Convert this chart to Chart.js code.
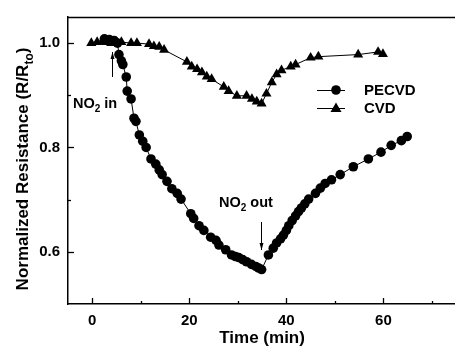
<!DOCTYPE html>
<html>
<head>
<meta charset="utf-8">
<script src="https://cdn.jsdelivr.net/npm/chart.js@4.4.0/dist/chart.umd.min.js"></script>
<style>
  html, body { margin: 0; padding: 0; background: #fff; overflow: hidden; }
  #wrap { position: absolute; left: 0; top: 0; width: 462px; height: 353px; }
</style>
</head>
<body>
<div id="wrap"><canvas id="myChart" width="462" height="353"></canvas></div>
<script>
// data
const pecvdTime = [2.5, 3.5, 4.5, 5.2, 5.5, 6.0, 6.3, 7.0, 7.2, 8.0, 8.6, 9.0, 9.7, 10.4, 11.1, 12.1, 13.1, 13.8, 14.4, 15.4, 16.4, 17.5, 18.3, 20.3, 20.9, 22.0, 23.0, 24.4, 25.5, 26.1, 27.5, 28.7, 29.5, 30.2, 31.0, 31.8, 32.8, 33.7, 34.3, 34.9, 36.3, 37.3, 38.0, 38.8, 39.4, 40.0, 40.5, 41.2, 41.9, 42.5, 43.1, 43.8, 44.6, 46.0, 47.0, 48.0, 49.3, 51.1, 53.8, 56.9, 59.5, 61.6, 63.7, 64.9];
const pecvdRes = [1.008, 1.007, 1.005, 1.0, 0.978, 0.966, 0.959, 0.935, 0.908, 0.893, 0.856, 0.85, 0.824, 0.812, 0.8, 0.778, 0.768, 0.757, 0.748, 0.735, 0.721, 0.712, 0.701, 0.673, 0.664, 0.65, 0.641, 0.628, 0.622, 0.613, 0.604, 0.594, 0.591, 0.589, 0.585, 0.581, 0.576, 0.572, 0.569, 0.566, 0.594, 0.607, 0.617, 0.625, 0.632, 0.641, 0.65, 0.66, 0.669, 0.677, 0.684, 0.692, 0.701, 0.712, 0.722, 0.731, 0.738, 0.748, 0.763, 0.778, 0.791, 0.804, 0.813, 0.821];

const cvdTime = [-0.2, 1.0, 2.1, 2.9, 3.9, 4.9, 6.0, 8.0, 9.2, 11.7, 12.7, 13.8, 14.8, 19.5, 20.5, 21.6, 22.6, 23.6, 24.6, 27.1, 28.1, 29.8, 31.8, 32.9, 33.9, 34.9, 35.9, 37.0, 38.0, 39.0, 40.9, 41.9, 45.0, 46.6, 54.8, 58.9, 59.9];
const cvdRes = [1.0, 1.002, 1.004, 1.002, 1.0, 1.002, 1.002, 1.0, 1.0, 0.998, 0.994, 0.993, 0.987, 0.964, 0.955, 0.95, 0.944, 0.936, 0.931, 0.916, 0.908, 0.899, 0.899, 0.893, 0.888, 0.884, 0.903, 0.925, 0.94, 0.948, 0.955, 0.959, 0.972, 0.974, 0.978, 0.983, 0.979];

const xTicks = [0, 20, 40, 60];
const xMinor = [10, 30, 50, 70];
const yTicks = [0.6, 0.8, 1.0];
const yMinor = [0.7, 0.9];

const FONT = '"Liberation Sans", Arial, sans-serif';

function toPoints(xs, ys) {
    return xs.map((x, i) => ({ x: x, y: ys[i] }));
}

// draws text with a subscript part: parts = [[text, isSub], ...]
function drawRich(ctx, parts, x, y, size, align) {
    const subSize = Math.round(size * 0.68);
    let total = 0;
    parts.forEach(p => {
        ctx.font = 'bold ' + (p[1] ? subSize : size) + 'px ' + FONT;
        total += ctx.measureText(p[0]).width;
    });
    let cx = align === 'center' ? x - total / 2 : x;
    ctx.textAlign = 'left';
    ctx.textBaseline = 'alphabetic';
    parts.forEach(p => {
        ctx.font = 'bold ' + (p[1] ? subSize : size) + 'px ' + FONT;
        ctx.fillText(p[0], cx, p[1] ? y + size * 0.3 : y);
        cx += ctx.measureText(p[0]).width;
    });
}

function arrow(ctx, x, y1, y2) {
    // from y1 to y2, head at y2
    const dir = y2 > y1 ? 1 : -1;
    ctx.beginPath();
    ctx.moveTo(x, y1);
    ctx.lineTo(x, y2);
    ctx.stroke();
    ctx.beginPath();
    ctx.moveTo(x, y2);
    ctx.lineTo(x - 2, y2 - dir * 7);
    ctx.lineTo(x + 2, y2 - dir * 7);
    ctx.closePath();
    ctx.fill();
}

const extras = {
    id: 'extras',
    afterDraw(chart) {
        const ctx = chart.ctx;
        const xs = chart.scales.x, ys = chart.scales.y;
        const area = chart.chartArea;
        ctx.save();
        ctx.strokeStyle = '#000';
        ctx.fillStyle = '#000';
        ctx.lineWidth = 1.5;

        // top frame
        ctx.beginPath();
        ctx.moveTo(area.left, area.top + 0.5);
        ctx.lineTo(area.right, area.top + 0.5);
        ctx.stroke();

        // inward ticks
        ctx.lineWidth = 1.3;
        xTicks.concat(xMinor).forEach(v => {
            const px = Math.round(xs.getPixelForValue(v)) + 0.5;
            const len = xTicks.includes(v) ? 6 : 3;
            ctx.beginPath();
            ctx.moveTo(px, area.bottom);
            ctx.lineTo(px, area.bottom - len);
            ctx.stroke();
        });
        yTicks.concat(yMinor).forEach(v => {
            const py = Math.round(ys.getPixelForValue(v)) + 0.5;
            const len = yTicks.includes(v) ? 6 : 3;
            ctx.beginPath();
            ctx.moveTo(area.left, py);
            ctx.lineTo(area.left + len, py);
            ctx.stroke();
        });

        // y axis title
        ctx.save();
        ctx.translate(28, 169);
        ctx.rotate(-Math.PI / 2);
        drawRich(ctx, [['Normalized Resistance (R/R', false], ['to', true], [')', false]], 0, 0, 17, 'center');
        ctx.restore();

        // annotations
        drawRich(ctx, [['NO', false], ['2', true], [' in', false]], 73, 108, 14.5, 'left');
        drawRich(ctx, [['NO', false], ['2', true], [' out', false]], 219, 207, 14.5, 'left');
        ctx.lineWidth = 1;
        arrow(ctx, 112.5, 77, 52);
        arrow(ctx, 261.5, 222, 250);

        // legend
        const rows = [['PECVD', 90, 'circle'], ['CVD', 108, 'triangle']];
        rows.forEach(r => {
            ctx.lineWidth = 1;
            ctx.beginPath();
            ctx.moveTo(317, r[1] + 0.5);
            ctx.lineTo(345, r[1] + 0.5);
            ctx.stroke();
            ctx.beginPath();
            if (r[2] === 'circle') {
                ctx.arc(336, r[1], 4.8, 0, Math.PI * 2);
            } else {
                ctx.moveTo(336, r[1] - 5.5);
                ctx.lineTo(341.5, r[1] + 4);
                ctx.lineTo(330.5, r[1] + 4);
                ctx.closePath();
            }
            ctx.fill();
            ctx.font = 'bold 15px ' + FONT;
            ctx.textAlign = 'left';
            ctx.textBaseline = 'middle';
            ctx.fillText(r[0], 364, r[1] + 1);
        });
        ctx.restore();
    }
};

const ctx = document.getElementById('myChart').getContext('2d');

new Chart(ctx, {
    type: 'scatter',
    data: {
        datasets: [
            {
                label: 'PECVD',
                data: toPoints(pecvdTime, pecvdRes),
                showLine: true,
                borderColor: '#000',
                borderWidth: 1,
                backgroundColor: '#000',
                pointStyle: 'circle',
                pointRadius: 4.8,
                pointBorderWidth: 0
            },
            {
                label: 'CVD',
                data: toPoints(cvdTime, cvdRes),
                showLine: true,
                borderColor: '#000',
                borderWidth: 1,
                backgroundColor: '#000',
                pointStyle: 'triangle',
                pointRadius: 5.8,
                pointBorderWidth: 0
            }
        ]
    },
    options: {
        responsive: false,
        animation: false,
        devicePixelRatio: 1,
        layout: { padding: { left: 0, right: 4, top: 10, bottom: 0 } },
        scales: {
            x: {
                type: 'linear',
                min: -5,
                max: 75,
                afterBuildTicks: s => { s.ticks = xTicks.map(v => ({ value: v })); },
                afterFit: s => { s.height = 49; },
                grid: { display: false, drawTicks: false },
                border: { display: true, color: '#000', width: 1.5 },
                ticks: {
                    color: '#000',
                    padding: 8,
                    font: { family: FONT, size: 15, weight: 'bold' }
                },
                title: {
                    display: true,
                    text: 'Time (min)',
                    color: '#000',
                    padding: { top: 9 },
                    font: { family: FONT, size: 17, weight: 'bold' }
                }
            },
            y: {
                min: 0.5,
                max: 1.05,
                afterBuildTicks: s => { s.ticks = yTicks.map(v => ({ value: v })); },
                afterFit: s => { s.width = 68; },
                grid: { display: false, drawTicks: false },
                border: { display: true, color: '#000', width: 1.5 },
                ticks: {
                    color: '#000',
                    padding: 8,
                    font: { family: FONT, size: 15, weight: 'bold' },
                    callback: v => v.toFixed(1)
                }
            }
        },
        plugins: {
            legend: { display: false },
            tooltip: { enabled: false }
        }
    },
    plugins: [extras]
});
</script>
</body>
</html>
